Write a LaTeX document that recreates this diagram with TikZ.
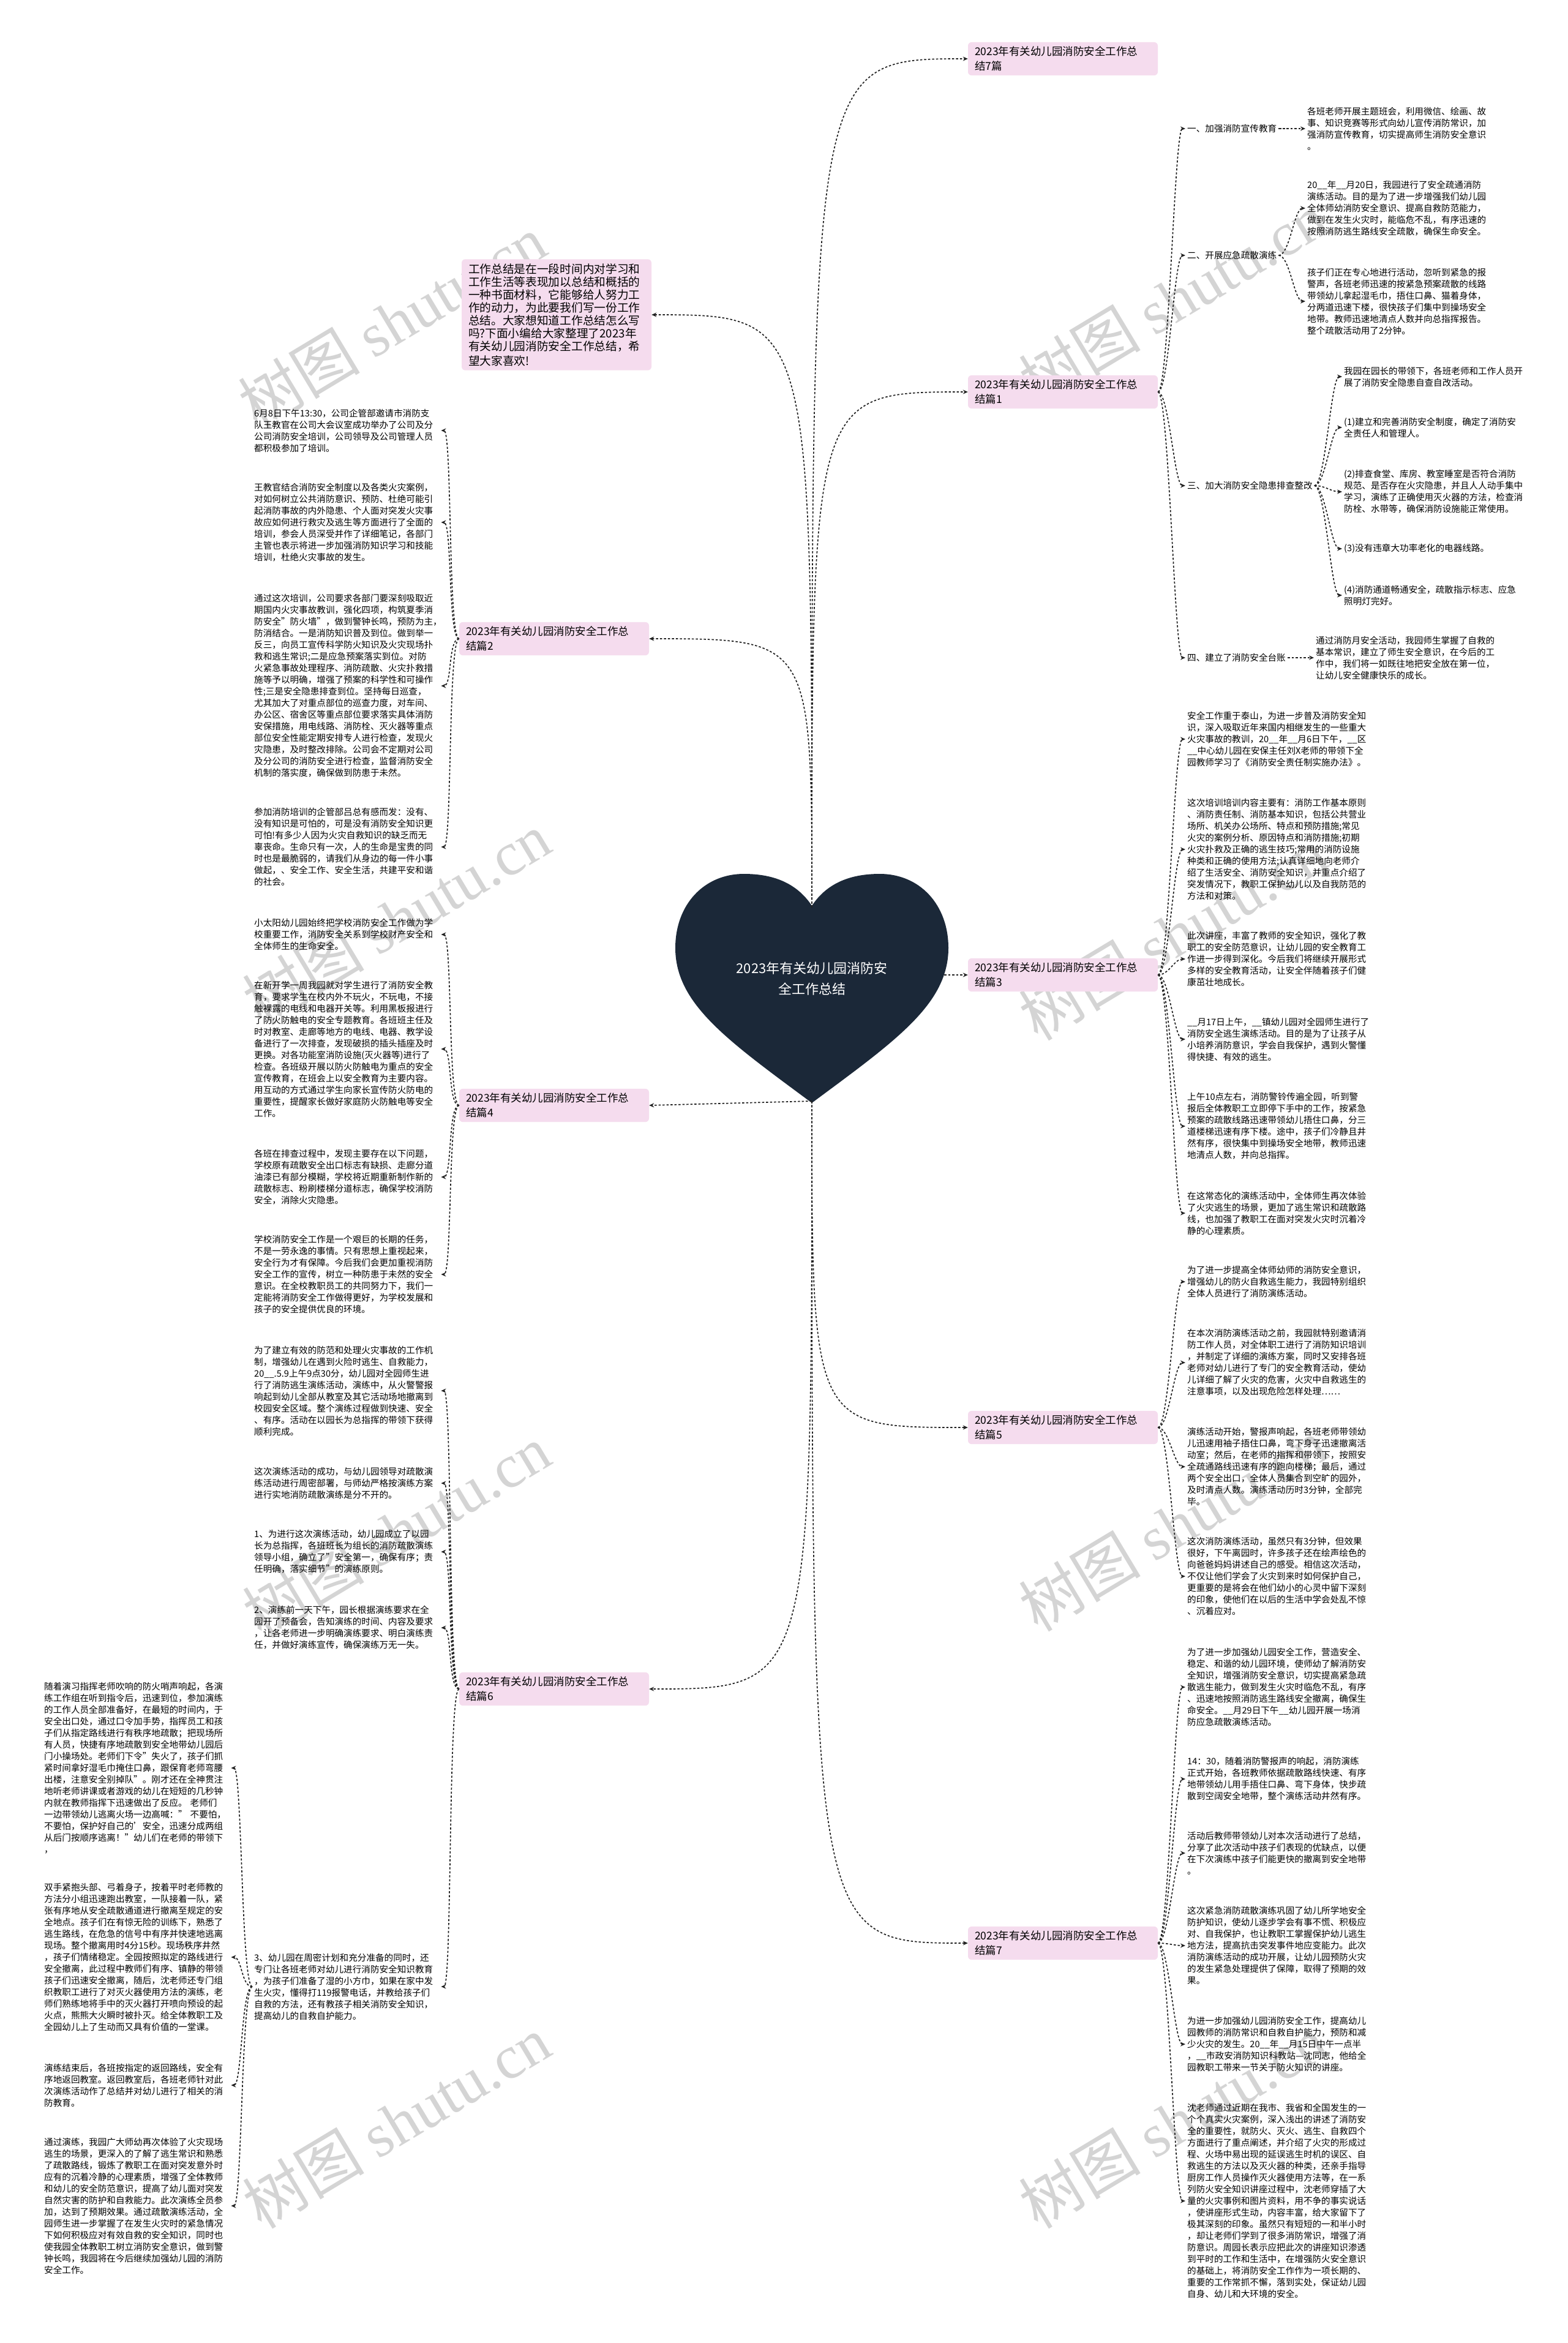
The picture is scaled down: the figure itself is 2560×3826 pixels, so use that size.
\documentclass[tikz,border=0pt]{standalone}
\usepackage{fontspec}
\setmainfont{Noto Sans CJK SC}
\newfontfamily\wmserif{Liberation Serif}
\usetikzlibrary{arrows.meta,calc}
\definecolor{pinkbg}{HTML}{F5DCEE}
\definecolor{heartc}{HTML}{1B2838}
\definecolor{linec}{HTML}{222222}
\definecolor{wmc}{HTML}{D4D4D4}
\begin{document}
\begin{tikzpicture}[x=1pt,y=-1pt,
  txt/.style={font=\fontsize{14.6}{19}\selectfont, text width=302pt, align=left, inner xsep=3pt, inner ysep=2pt, anchor=west},
  lbl/.style={font=\fontsize{14.6}{19}\selectfont, inner xsep=3pt, inner ysep=2pt, anchor=west},
  ttl/.style={fill=pinkbg, rounded corners=6pt, font=\fontsize{17.5}{24}\selectfont, text width=288pt, align=left, inner xsep=11pt, inner ysep=7pt},
  conn/.style={draw=linec, line width=1.7pt, dash pattern=on 3.5pt off 3pt, -{Stealth[length=8pt,width=7pt]}},
  wm/.style={text=wmc, font=\fontsize{100}{100}\selectfont, rotate=31, inner sep=0pt}
]
\useasboundingbox[fill=white] (0,0) rectangle (2560,3826);

% watermarks
\node[wm] (w1) at (640,525) {树图 {\wmserif shutu.cn}};
\node[wm] (w2) at (647,1500) {树图 {\wmserif shutu.cn}};
\node[wm] (w3) at (647,2500) {树图 {\wmserif shutu.cn}};
\node[wm] (w4) at (647,3465) {树图 {\wmserif shutu.cn}};
\node[wm] (w5) at (1915,488) {树图 {\wmserif shutu.cn}};
\node[wm] (w6) at (1915,1525) {树图 {\wmserif shutu.cn}};
\node[wm] (w7) at (1915,2490) {树图 {\wmserif shutu.cn}};
\node[wm] (w8) at (1915,3465) {树图 {\wmserif shutu.cn}};

% heart
\fill[heartc] (1326,1479) .. controls (1300,1440) and (1260,1427) .. (1215,1427)
  .. controls (1150,1427) and (1103,1477) .. (1103,1548)
  .. controls (1103,1640) and (1190,1700) .. (1326,1801)
  .. controls (1462,1700) and (1549,1640) .. (1549,1548)
  .. controls (1549,1477) and (1502,1427) .. (1437,1427)
  .. controls (1392,1427) and (1352,1440) .. (1326,1479) -- cycle;
\node[text=white, font=\fontsize{22}{34}\selectfont, align=center] (hc) at (1326,1598) {2023年有关幼儿园消防安\\全工作总结};
\coordinate (htop) at (1326,1482);
\coordinate (hbot) at (1326,1798);
\coordinate (hright) at (1542,1592);

% titles
\node[ttl] (intro) at (909,514) {\fontsize{18.7}{21}\selectfont 工作总结是在一段时间内对学习和\\工作生活等表现加以总结和概括的\\一种书面材料，它能够给人努力工\\作的动力，为此要我们写一份工作\\总结。大家想知道工作总结怎么写\\吗?下面小编给大家整理了2023年\\有关幼儿园消防安全工作总结，希\\望大家喜欢!};
\node[ttl] (t7a) at (1736,96) {2023年有关幼儿园消防安全工作总\\结7篇};
\node[ttl] (t1) at (1736,640) {2023年有关幼儿园消防安全工作总\\结篇1};
\node[ttl] (t3) at (1736,1592) {2023年有关幼儿园消防安全工作总\\结篇3};
\node[ttl] (t5) at (1736,2331) {2023年有关幼儿园消防安全工作总\\结篇5};
\node[ttl] (t7b) at (1736,3173) {2023年有关幼儿园消防安全工作总\\结篇7};
\node[ttl] (t2) at (905,1043) {2023年有关幼儿园消防安全工作总\\结篇2};
\node[ttl] (t4) at (905,1805) {2023年有关幼儿园消防安全工作总\\结篇4};
\node[ttl] (t6) at (905,2758) {2023年有关幼儿园消防安全工作总\\结篇6};

% ---- 篇1 ----
\node[lbl] (l1) at (1936,210) {一、加强消防宣传教育};
\node[lbl] (l2) at (1936,417) {二、开展应急疏散演练};
\node[lbl] (l3) at (1936,793) {三、加大消防安全隐患排查整改};
\node[lbl] (l4) at (1936,1074) {四、建立了消防安全台账};
\node[txt] (p1a) at (2132,210) {各班老师开展主题班会，利用微信、绘画、故\\事、知识竞赛等形式向幼儿宣传消防常识，加\\强消防宣传教育，切实提高师生消防安全意识\\。};
\node[txt] (p2a) at (2132,340) {20\_\_年\_\_月20日，我园进行了安全疏通消防\\演练活动。目的是为了进一步增强我们幼儿园\\全体师幼消防安全意识、提高自救防范能力，\\做到在发生火灾时，能临危不乱，有序迅速的\\按照消防逃生路线安全疏散，确保生命安全。};
\node[txt] (p2b) at (2132,492) {孩子们正在专心地进行活动，忽听到紧急的报\\警声，各班老师迅速的按紧急预案疏散的线路\\带领幼儿拿起湿毛巾，捂住口鼻、猫着身体，\\分两道迅速下楼，很快孩子们集中到操场安全\\地带。教师迅速地清点人数并向总指挥报告。\\整个疏散活动用了2分钟。};
\node[txt] (p3a) at (2192,615) {我园在园长的带领下，各班老师和工作人员开\\展了消防安全隐患自查自改活动。};
\node[txt] (p3b) at (2192,698) {(1)建立和完善消防安全制度，确定了消防安\\全责任人和管理人。};
\node[txt] (p3c) at (2192,803) {(2)排查食堂、库房、教室睡室是否符合消防\\规范、是否存在火灾隐患，并且人人动手集中\\学习，演练了正确使用灭火器的方法，检查消\\防栓、水带等，确保消防设施能正常使用。};
\node[txt] (p3d) at (2192,896) {(3)没有违章大功率老化的电器线路。};
\node[txt] (p3e) at (2192,972) {(4)消防通道畅通安全，疏散指示标志、应急\\照明灯完好。};
\node[txt] (p4a) at (2146,1074) {通过消防月安全活动，我园师生掌握了自救的\\基本常识，建立了师生安全意识，在今后的工\\作中，我们将一如既往地把安全放在第一位，\\让幼儿安全健康快乐的成长。};

% ---- 篇3 ----
\node[txt] (b1) at (1936,1207) {安全工作重于泰山，为进一步普及消防安全知\\识，深入吸取近年来国内相继发生的一些重大\\火灾事故的教训，20\_\_年\_\_月6日下午，\_\_区\\\_\_中心幼儿园在安保主任刘X老师的带领下全\\园教师学习了《消防安全责任制实施办法》。};
\node[txt] (b2) at (1936,1387) {这次培训培训内容主要有：消防工作基本原则\\、消防责任制、消防基本知识，包括公共营业\\场所、机关办公场所、特点和预防措施;常见\\火灾的案例分析、原因特点和消防措施;初期\\火灾扑救及正确的逃生技巧;常用的消防设施\\种类和正确的使用方法;认真详细地向老师介\\绍了生活安全、消防安全知识，并重点介绍了\\突发情况下，教职工保护幼儿以及自我防范的\\方法和对策。};
\node[txt] (b3) at (1936,1566) {此次讲座，丰富了教师的安全知识，强化了教\\职工的安全防范意识，让幼儿园的安全教育工\\作进一步得到深化。今后我们将继续开展形式\\多样的安全教育活动，让安全伴随着孩子们健\\康茁壮地成长。};
\node[txt] (b4) at (1936,1697) {\_\_月17日上午，\_\_镇幼儿园对全园师生进行了\\消防安全逃生演练活动。目的是为了让孩子从\\小培养消防意识，学会自我保护，遇到火警懂\\得快捷、有效的逃生。};
\node[txt] (b5) at (1936,1839) {上午10点左右，消防警铃传遍全园，听到警\\报后全体教职工立即停下手中的工作，按紧急\\预案的疏散线路迅速带领幼儿捂住口鼻，分三\\道楼梯迅速有序下楼。途中，孩子们冷静且井\\然有序，很快集中到操场安全地带，教师迅速\\地清点人数，并向总指挥。};
\node[txt] (b6) at (1936,1981) {在这常态化的演练活动中，全体师生再次体验\\了火灾逃生的场景，更加了逃生常识和疏散路\\线，也加强了教职工在面对突发火灾时沉着冷\\静的心理素质。};

% ---- 篇5 ----
\node[txt] (c1) at (1936,2093) {为了进一步提高全体师幼师的消防安全意识，\\增强幼儿的防火自救逃生能力，我园特别组织\\全体人员进行了消防演练活动。};
\node[txt] (c2) at (1936,2225) {在本次消防演练活动之前，我园就特别邀请消\\防工作人员，对全体职工进行了消防知识培训\\，并制定了详细的演练方案，同时又安排各班\\老师对幼儿进行了专门的安全教育活动，使幼\\儿详细了解了火灾的危害，火灾中自救逃生的\\注意事项，以及出现危险怎样处理……};
\node[txt] (c3) at (1936,2395) {演练活动开始，警报声响起，各班老师带领幼\\儿迅速用袖子捂住口鼻，弯下身子迅速撤离活\\动室；然后，在老师的指挥和带领下，按照安\\全疏通路线迅速有序的跑向楼梯；最后，通过\\两个安全出口，全体人员集合到空旷的园外，\\及时清点人数。演练活动历时3分钟，全部完\\毕。};
\node[txt] (c4) at (1936,2574) {这次消防演练活动，虽然只有3分钟，但效果\\很好，下午离园时，许多孩子还在绘声绘色的\\向爸爸妈妈讲述自己的感受。相信这次活动，\\不仅让他们学会了火灾到来时如何保护自己，\\更重要的是将会在他们幼小的心灵中留下深刻\\的印象，使他们在以后的生活中学会处乱不惊\\、沉着应对。};

% ---- 篇7 ----
\node[txt] (d1) at (1936,2755) {为了进一步加强幼儿园安全工作，营造安全、\\稳定、和谐的幼儿园环境，使师幼了解消防安\\全知识，增强消防安全意识，切实提高紧急疏\\散逃生能力，做到发生火灾时临危不乱，有序\\、迅速地按照消防逃生路线安全撤离，确保生\\命安全。\_\_月29日下午\_\_幼儿园开展一场消\\防应急疏散演练活动。};
\node[txt] (d2) at (1936,2905) {14：30，随着消防警报声的响起，消防演练\\正式开始，各班教师依据疏散路线快速、有序\\地带领幼儿用手捂住口鼻、弯下身体，快步疏\\散到空阔安全地带，整个演练活动井然有序。};
\node[txt] (d3) at (1936,3026) {活动后教师带领幼儿对本次活动进行了总结，\\分享了此次活动中孩子们表现的优缺点，以便\\在下次演练中孩子们能更快的撤离到安全地带\\。};
\node[txt] (d4) at (1936,3177) {这次紧急消防疏散演练巩固了幼儿所学地安全\\防护知识，使幼儿逐步学会有事不慌、积极应\\对、自我保护，也让教职工掌握保护幼儿逃生\\地方法，提高抗击突发事件地应变能力。此次\\消防演练活动的成功开展，让幼儿园预防火灾\\的发生紧急处理提供了保障，取得了预期的效\\果。};
\node[txt] (d5) at (1936,3338) {为进一步加强幼儿园消防安全工作，提高幼儿\\园教师的消防常识和自救自护能力，预防和减\\少火灾的发生。20\_\_年\_\_月15日中午一点半\\，\_\_市政安消防知识科教站—沈同志，他给全\\园教职工带来一节关于防火知识的讲座。};
\node[txt] (d6) at (1936,3594) {沈老师通过近期在我市、我省和全国发生的一\\个个真实火灾案例，深入浅出的讲述了消防安\\全的重要性，就防火、灭火、逃生、自救四个\\方面进行了重点阐述，并介绍了火灾的形成过\\程、火场中易出现的延误逃生时机的误区、自\\救逃生的方法以及灭火器的种类，还亲手指导\\厨房工作人员操作灭火器使用方法等，在一系\\列防火安全知识讲座过程中，沈老师穿插了大\\量的火灾事例和图片资料，用不争的事实说话\\，使讲座形式生动，内容丰富，给大家留下了\\极其深刻的印象。虽然只有短短的一和半小时\\，却让老师们学到了很多消防常识，增强了消\\防意识。周园长表示应把此次的讲座知识渗透\\到平时的工作和生活中，在增强防火安全意识\\的基础上，将消防安全工作作为一项长期的、\\重要的工作常抓不懈，落到实处，保证幼儿园\\自身、幼儿和大环境的安全。};

% ---- 篇2 ----
\node[txt] (e1) at (412,703) {6月8日下午13:30，公司企管部邀请市消防支\\队王教官在公司大会议室成功举办了公司及分\\公司消防安全培训，公司领导及公司管理人员\\都积极参加了培训。};
\node[txt] (e2) at (412,853) {王教官结合消防安全制度以及各类火灾案例，\\对如何树立公共消防意识、预防、杜绝可能引\\起消防事故的内外隐患、个人面对突发火灾事\\故应如何进行救灾及逃生等方面进行了全面的\\培训，参会人员深受并作了详细笔记，各部门\\主管也表示将进一步加强消防知识学习和技能\\培训，杜绝火灾事故的发生。};
\node[txt] (e3) at (412,1120) {通过这次培训，公司要求各部门要深刻吸取近\\期国内火灾事故教训，强化四项，构筑夏季消\\防安全"防火墙"，做到警钟长鸣，预防为主，\\防消结合。一是消防知识普及到位。做到举一\\反三，向员工宣传科学防火知识及火灾现场扑\\救和逃生常识;二是应急预案落实到位。对防\\火紧急事故处理程序、消防疏散、火灾扑救措\\施等予以明确，增强了预案的科学性和可操作\\性;三是安全隐患排查到位。坚持每日巡查，\\尤其加大了对重点部位的巡查力度，对车间、\\办公区、宿舍区等重点部位要求落实具体消防\\安保措施，用电线路、消防栓、灭火器等重点\\部位安全性能定期安排专人进行检查，发现火\\灾隐患，及时整改排除。公司会不定期对公司\\及分公司的消防安全进行检查，监督消防安全\\机制的落实度，确保做到防患于未然。};
\node[txt] (e4) at (412,1383) {参加消防培训的企管部吕总有感而发：没有、\\没有知识是可怕的，可是没有消防安全知识更\\可怕!有多少人因为火灾自救知识的缺乏而无\\辜丧命。生命只有一次，人的生命是宝贵的同\\时也是最脆弱的，请我们从身边的每一件小事\\做起，、安全工作、安全生活，共建平安和谐\\的社会。};

% ---- 篇4 ----
\node[txt] (f1) at (412,1526) {小太阳幼儿园始终把学校消防安全工作做为学\\校重要工作，消防安全关系到学校财产安全和\\全体师生的生命安全。};
\node[txt] (f2) at (412,1713) {在新开学一周我园就对学生进行了消防安全教\\育，要求学生在校内外不玩火，不玩电，不接\\触裸露的电线和电器开关等。利用黑板报进行\\了防火防触电的安全专题教育。各班班主任及\\时对教室、走廊等地方的电线、电器、教学设\\备进行了一次排查，发现破损的插头插座及时\\更换。对各功能室消防设施(灭火器等)进行了\\检查。各班级开展以防火防触电为重点的安全\\宣传教育，在班会上以安全教育为主要内容。\\用互动的方式通过学生向家长宣传防火防电的\\重要性，提醒家长做好家庭防火防触电等安全\\工作。};
\node[txt] (f3) at (412,1922) {各班在排查过程中，发现主要存在以下问题，\\学校原有疏散安全出口标志有缺损、走廊分道\\油漆已有部分模糊，学校将近期重新制作新的\\疏散标志、粉刷楼梯分道标志，确保学校消防\\安全，消除火灾隐患。};
\node[txt] (f4) at (412,2081) {学校消防安全工作是一个艰巨的长期的任务，\\不是一劳永逸的事情。只有思想上重视起来，\\安全行为才有保障。今后我们会更加重视消防\\安全工作的宣传，树立一种防患于未然的安全\\意识。在全校教职员工的共同努力下，我们一\\定能将消防安全工作做得更好，为学校发展和\\孩子的安全提供优良的环境。};

% ---- 篇6 ----
\node[txt] (g1) at (412,2271) {为了建立有效的防范和处理火灾事故的工作机\\制，增强幼儿在遇到火险时逃生、自救能力，\\20\_\_.5.9上午9点30分，幼儿园对全园师生进\\行了消防逃生演练活动，演练中，从火警警报\\响起到幼儿全部从教室及其它活动场地撤离到\\校园安全区域。整个演练过程做到快速、安全\\、有序。活动在以园长为总指挥的带领下获得\\顺利完成。};
\node[txt] (g2) at (412,2422) {这次演练活动的成功，与幼儿园领导对疏散演\\练活动进行周密部署，与师幼严格按演练方案\\进行实地消防疏散演练是分不开的。};
\node[txt] (g3) at (412,2534) {1、为进行这次演练活动，幼儿园成立了以园\\长为总指挥，各班班长为组长的消防疏散演练\\领导小组，确立了"安全第一，确保有序；责\\任明确，落实细节"的演练原则。};
\node[txt] (g4) at (412,2658) {2、演练前一天下午，园长根据演练要求在全\\园开了预备会，告知演练的时间、内容及要求\\，让各老师进一步明确演练要求、明白演练责\\任，并做好演练宣传，确保演练万无一失。};
\node[txt] (g5) at (412,3244) {3、幼儿园在周密计划和充分准备的同时，还\\专门让各班老师对幼儿进行消防安全知识教育\\，为孩子们准备了湿的小方巾，如果在家中发\\生火灾，懂得打119报警电话，并教给孩子们\\自救的方法，还有教孩子相关消防安全知识，\\提高幼儿的自救自护能力。};
\node[txt] (h1) at (69,2887) {随着演习指挥老师吹响的防火哨声响起，各演\\练工作组在听到指令后，迅速到位，参加演练\\的工作人员全部准备好，在最短的时间内，于\\安全出口处，通过口令加手势，指挥员工和孩\\子们从指定路线进行有秩序地疏散；把现场所\\有人员，快捷有序地疏散到安全地带幼儿园后\\门小操场处。老师们下令"失火了，孩子们抓\\紧时间拿好湿毛巾掩住口鼻，跟保育老师弯腰\\出楼，注意安全别掉队"。刚才还在全神贯注\\地听老师讲课或者游戏的幼儿在短短的几秒钟\\内就在教师指挥下迅速做出了反应。~老师们\\一边带领幼儿逃离火场一边高喊："~不要怕，\\不要怕，保护好自己的'安全，迅速分成两组\\从后门按顺序逃离！"幼儿们在老师的带领下\\，};
\node[txt] (h2) at (69,3196) {双手紧抱头部、弓着身子，按着平时老师教的\\方法分小组迅速跑出教室，一队接着一队，紧\\张有序地从安全疏散通道进行撤离至规定的安\\全地点。孩子们在有惊无险的训练下，熟悉了\\逃生路线，在危急的信号中有序并快速地逃离\\现场。整个撤离用时4分15秒。现场秩序井然\\，孩子们情绪稳定。全园按照拟定的路线进行\\安全撤离，此过程中教师们有序、镇静的带领\\孩子们迅速安全撤离，随后，沈老师还专门组\\织教职工进行了对灭火器使用方法的演练，老\\师们熟练地将手中的灭火器打开喷向预设的起\\火点，熊熊大火瞬时被扑灭。给全体教职工及\\全园幼儿上了生动而又具有价值的一堂课。};
\node[txt] (h3) at (69,3405) {演练结束后，各班按指定的返回路线，安全有\\序地返回教室。返回教室后，各班老师针对此\\次演练活动作了总结并对幼儿进行了相关的消\\防教育。};
\node[txt] (h4) at (69,3602) {通过演练，我园广大师幼再次体验了火灾现场\\逃生的场景，更深入的了解了逃生常识和熟悉\\了疏散路线，锻炼了教职工在面对突发意外时\\应有的沉着冷静的心理素质，增强了全体教师\\和幼儿的安全防范意识，提高了幼儿面对突发\\自然灾害的防护和自救能力。此次演练全员参\\加，达到了预期效果。通过疏散演练活动，全\\园师生进一步掌握了在发生火灾时的紧急情况\\下如何积极应对有效自救的安全知识，同时也\\使我园全体教职工树立消防安全意识，做到警\\钟长鸣，我园将在今后继续加强幼儿园的消防\\安全工作。};

% ---- connectors from heart ----
\foreach \t in {t7a,t1}{
  \draw[conn] (htop) .. controls (htop |- \t.west) .. (\t.west);
}
\foreach \t in {intro,t2}{
  \draw[conn] (htop) .. controls (htop |- \t.east) .. (\t.east);
}
\draw[conn] (hright) -- (t3.west);
\draw[conn] (hbot) .. controls ($(hbot)!0.5!(t4.east)$) .. (t4.east);
\foreach \t in {t5,t7b}{
  \draw[conn] (hbot) .. controls (hbot |- \t.west) .. (\t.west);
}
\draw[conn] (hbot) .. controls (hbot |- t6.east) .. (t6.east);

% ---- right sub-connectors ----
\newcommand{\rlink}[2]{\draw[conn] (#1.east) .. controls +(18,0) and +(-18,0) .. (#2.west);}
\newcommand{\llink}[2]{\draw[conn] (#1.west) .. controls +(-18,0) and +(18,0) .. (#2.east);}
\foreach \c in {l1,l2,l3,l4}{ \rlink{t1}{\c} }
\rlink{l1}{p1a}
\rlink{l2}{p2a} \rlink{l2}{p2b}
\foreach \c in {p3a,p3b,p3c,p3d,p3e}{ \rlink{l3}{\c} }
\rlink{l4}{p4a}
\foreach \c in {b1,b2,b3,b4,b5,b6}{ \rlink{t3}{\c} }
\foreach \c in {c1,c2,c3,c4}{ \rlink{t5}{\c} }
\foreach \c in {d1,d2,d3,d4,d5,d6}{ \rlink{t7b}{\c} }
% ---- left sub-connectors ----
\foreach \c in {e1,e2,e3,e4}{ \llink{t2}{\c} }
\foreach \c in {f1,f2,f3,f4}{ \llink{t4}{\c} }
\foreach \c in {g1,g2,g3,g4,g5}{ \llink{t6}{\c} }
\foreach \c in {h1,h2,h3,h4}{ \llink{g5}{\c} }
\end{tikzpicture}
\end{document}
